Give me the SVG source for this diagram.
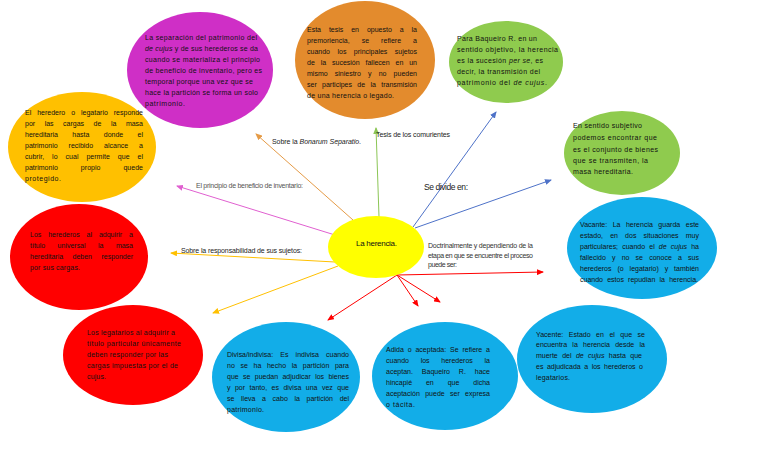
<svg xmlns="http://www.w3.org/2000/svg" width="768" height="466" viewBox="0 0 768 466">
<style>
text{font-family:"Liberation Sans",Arial,sans-serif;font-size:7px;fill:#111}
.lbl{fill:#222}
.gray{fill:#555}
.it{font-style:italic}
.ln{fill:none;stroke-width:1}
</style>
<defs>
<marker id="mo" markerWidth="7" markerHeight="6" refX="6" refY="3" orient="auto" markerUnits="userSpaceOnUse"><path d="M0,0L7,3L0,6z" fill="#E59B47"/></marker>
<marker id="mg" markerWidth="7" markerHeight="6" refX="6" refY="3" orient="auto" markerUnits="userSpaceOnUse"><path d="M0,0L7,3L0,6z" fill="#8CC656"/></marker>
<marker id="mb" markerWidth="7" markerHeight="6" refX="6" refY="3" orient="auto" markerUnits="userSpaceOnUse"><path d="M0,0L7,3L0,6z" fill="#4E72C8"/></marker>
<marker id="mp" markerWidth="7" markerHeight="6" refX="6" refY="3" orient="auto" markerUnits="userSpaceOnUse"><path d="M0,0L7,3L0,6z" fill="#E060D0"/></marker>
<marker id="my" markerWidth="7" markerHeight="6" refX="6" refY="3" orient="auto" markerUnits="userSpaceOnUse"><path d="M0,0L7,3L0,6z" fill="#FFC000"/></marker>
<marker id="mr" markerWidth="7" markerHeight="6" refX="6" refY="3" orient="auto" markerUnits="userSpaceOnUse"><path d="M0,0L7,3L0,6z" fill="#FF0000"/></marker>
</defs>

<g id="connectors">
<line class="ln" x1="353" y1="220" x2="256" y2="134" stroke="#E59B47" marker-end="url(#mo)"/>
<line class="ln" x1="379" y1="217" x2="376" y2="128" stroke="#8CC656" marker-end="url(#mg)"/>
<line class="ln" x1="413" y1="227" x2="496" y2="112" stroke="#4E72C8" marker-end="url(#mb)"/>
<line class="ln" x1="415" y1="228" x2="551" y2="180" stroke="#4E72C8" marker-end="url(#mb)"/>
<line class="ln" x1="335" y1="235" x2="177" y2="186" stroke="#E060D0" marker-end="url(#mp)"/>
<line class="ln" x1="335" y1="262" x2="171" y2="253" stroke="#FFC000" marker-end="url(#my)"/>
<line class="ln" x1="338" y1="266" x2="213" y2="313" stroke="#FFC000" marker-end="url(#my)"/>
<line class="ln" x1="397" y1="275" x2="543" y2="272" stroke="#FF0000" marker-end="url(#mr)"/>
<line class="ln" x1="397" y1="275" x2="328" y2="320" stroke="#FF0000" marker-end="url(#mr)"/>
<line class="ln" x1="397" y1="275" x2="418" y2="306" stroke="#FF0000" marker-end="url(#mr)"/>
<line class="ln" x1="397" y1="275" x2="440" y2="302" stroke="#FF0000" marker-end="url(#mr)"/>
</g>

<g id="n-magenta">
<ellipse cx="200" cy="70" rx="73" ry="58" fill="#CF2FC6"/>
<text x="145" y="40" textLength="112" lengthAdjust="spacing">La separación del patrimonio del</text>
<text x="145" y="51" textLength="113" lengthAdjust="spacing"><tspan class="it">de cujus</tspan> y de sus herederos se da</text>
<text x="145" y="62" textLength="115" lengthAdjust="spacing">cuando se materializa el principio</text>
<text x="145" y="73" textLength="117" lengthAdjust="spacing">de beneficio de inventario, pero es</text>
<text x="145" y="84" textLength="108" lengthAdjust="spacing">temporal porque una vez que se</text>
<text x="145" y="95" textLength="113" lengthAdjust="spacing">hace la partición se forma un solo</text>
<text x="145" y="106" textLength="40" lengthAdjust="spacing">patrimonio.</text>
</g>

<g id="n-orange">
<ellipse cx="365" cy="60" rx="70" ry="59" fill="#E38B2D"/>
<text x="307" y="32" textLength="110" lengthAdjust="spacing" style="word-spacing:6px">Esta tesis en opuesto a la</text>
<text x="307" y="43" textLength="110" lengthAdjust="spacing" style="word-spacing:10px">premoriencia, se refiere a</text>
<text x="307" y="54" textLength="110" lengthAdjust="spacing" style="word-spacing:5.5px">cuando los principales sujetos</text>
<text x="307" y="65" textLength="110" lengthAdjust="spacing" style="word-spacing:4px">de la sucesión fallecen en un</text>
<text x="307" y="76" textLength="110" lengthAdjust="spacing" style="word-spacing:5.2px">mismo siniestro y no pueden</text>
<text x="307" y="87" textLength="110" lengthAdjust="spacing" style="word-spacing:3.4px">ser participes de la transmisión</text>
<text x="307" y="98" textLength="87" lengthAdjust="spacing">de una herencia o legado.</text>
</g>

<g id="n-green-top">
<ellipse cx="506" cy="62" rx="57" ry="41" fill="#8FCB4E"/>
<text x="457" y="41" textLength="80" lengthAdjust="spacing">Para Baqueiro R. en un</text>
<text x="457" y="52" textLength="101" lengthAdjust="spacing">sentido objetivo, la herencia</text>
<text x="457" y="63" textLength="86" lengthAdjust="spacing">es la sucesión <tspan class="it">per se</tspan>, es</text>
<text x="457" y="74" textLength="83" lengthAdjust="spacing">decir, la transmisión del</text>
<text x="457" y="85" textLength="90" lengthAdjust="spacing">patrimonio del <tspan class="it">de cujus</tspan>.</text>
</g>

<g id="n-yellow-left">
<ellipse cx="82" cy="147" rx="74" ry="55" fill="#FFC000"/>
<text x="25" y="115" textLength="118" lengthAdjust="spacing" style="word-spacing:4px">El heredero o legatario responde</text>
<text x="25" y="126" textLength="118" lengthAdjust="spacing" style="word-spacing:7.6px">por las cargas de la masa</text>
<text x="25" y="137" textLength="118" lengthAdjust="spacing" style="word-spacing:12.4px">hereditaria hasta donde el</text>
<text x="25" y="148" textLength="118" lengthAdjust="spacing" style="word-spacing:9px">patrimonio recibido alcance a</text>
<text x="25" y="159" textLength="118" lengthAdjust="spacing" style="word-spacing:6px">cubrir, lo cual permite que el</text>
<text x="25" y="170" textLength="118" lengthAdjust="spacing" style="word-spacing:21px">patrimonio propio quede</text>
<text x="25" y="181" textLength="36" lengthAdjust="spacing">protegido.</text>
</g>

<g id="n-green-right">
<ellipse cx="622" cy="153" rx="58" ry="42" fill="#8FCB4E"/>
<text x="573" y="128" textLength="69" lengthAdjust="spacing">En sentido subjetivo</text>
<text x="573" y="140" textLength="84" lengthAdjust="spacing">podemos encontrar que</text>
<text x="573" y="152" textLength="85" lengthAdjust="spacing">es el conjunto de bienes</text>
<text x="573" y="163" textLength="75" lengthAdjust="spacing">que se transmiten, la</text>
<text x="573" y="174" textLength="60" lengthAdjust="spacing">masa hereditaria.</text>
</g>

<g id="n-red-left">
<ellipse cx="79" cy="257" rx="69" ry="53" fill="#FF0000"/>
<text x="30" y="237" textLength="103" lengthAdjust="spacing" style="word-spacing:5px">Los herederos al adquirir a</text>
<text x="30" y="248" textLength="103" lengthAdjust="spacing" style="word-spacing:10.5px">título universal la masa</text>
<text x="30" y="259" textLength="103" lengthAdjust="spacing" style="word-spacing:7.5px">hereditaria deben responder</text>
<text x="30" y="270" textLength="50" lengthAdjust="spacing">por sus cargas.</text>
</g>

<g id="n-center">
<ellipse cx="376" cy="247" rx="48" ry="31" fill="#FFFF00"/>
<text x="356" y="246" textLength="41" lengthAdjust="spacing" style="font-size:8px">La herencia.</text>
</g>

<g id="n-cyan-right">
<ellipse cx="642" cy="248" rx="75" ry="51" fill="#12ADE8"/>
<text x="580" y="227" textLength="119" lengthAdjust="spacing" style="word-spacing:3.5px">Vacante: La herencia guarda este</text>
<text x="580" y="238" textLength="119" lengthAdjust="spacing" style="word-spacing:5.2px">estado, en dos situaciones muy</text>
<text x="580" y="249" textLength="119" lengthAdjust="spacing" style="word-spacing:2.2px">particulares; cuando el <tspan class="it">de cujus</tspan> ha</text>
<text x="580" y="260" textLength="119" lengthAdjust="spacing" style="word-spacing:4.2px">fallecido y no se conoce a sus</text>
<text x="580" y="271" textLength="119" lengthAdjust="spacing" style="word-spacing:4px">herederos (o legatario) y también</text>
<text x="580" y="282" textLength="118" lengthAdjust="spacing" style="word-spacing:2.3px">cuando estos repudian la herencia.</text>
</g>

<g id="n-red-bottom">
<ellipse cx="133" cy="355" rx="70" ry="50" fill="#FF0000"/>
<text x="87" y="335" textLength="88" lengthAdjust="spacing">Los legatarios al adquirir a</text>
<text x="87" y="346" textLength="94" lengthAdjust="spacing">título particular únicamente</text>
<text x="87" y="357" textLength="81" lengthAdjust="spacing">deben responder por las</text>
<text x="87" y="368" textLength="91" lengthAdjust="spacing">cargas impuestas por el de</text>
<text x="87" y="379" textLength="19" lengthAdjust="spacing">cujus.</text>
</g>

<g id="n-cyan-divisa">
<ellipse cx="286" cy="377" rx="74" ry="55" fill="#12ADE8"/>
<text x="227" y="357" textLength="122" lengthAdjust="spacing" style="word-spacing:5.2px">Divisa/indivisa: Es indivisa cuando</text>
<text x="227" y="368" textLength="122" lengthAdjust="spacing" style="word-spacing:3.7px">no se ha hecho la partición para</text>
<text x="227" y="379" textLength="122" lengthAdjust="spacing" style="word-spacing:2.4px">que se puedan adjudicar los bienes</text>
<text x="227" y="390" textLength="122" lengthAdjust="spacing" style="word-spacing:2.5px">y por tanto, es divisa una vez que</text>
<text x="227" y="401" textLength="122" lengthAdjust="spacing" style="word-spacing:4.7px">se lleva a cabo la partición del</text>
<text x="227" y="412" textLength="37" lengthAdjust="spacing">patrimonio.</text>
</g>

<g id="n-cyan-adida">
<ellipse cx="445" cy="376" rx="73" ry="54" fill="#12ADE8"/>
<text x="386" y="352" textLength="104" lengthAdjust="spacing" style="word-spacing:1.9px">Adida o aceptada: Se refiere a</text>
<text x="386" y="363" textLength="104" lengthAdjust="spacing" style="word-spacing:9.8px">cuando los herederos la</text>
<text x="386" y="374" textLength="104" lengthAdjust="spacing" style="word-spacing:7px">aceptan. Baqueiro R. hace</text>
<text x="386" y="385" textLength="104" lengthAdjust="spacing" style="word-spacing:12px">hincapié en que dicha</text>
<text x="386" y="396" textLength="104" lengthAdjust="spacing" style="word-spacing:3.4px">aceptación puede ser expresa</text>
<text x="386" y="407" textLength="29" lengthAdjust="spacing">o tácita.</text>
</g>

<g id="n-cyan-yacente">
<ellipse cx="592" cy="359" rx="75" ry="54" fill="#12ADE8"/>
<text x="536" y="337" textLength="109" lengthAdjust="spacing" style="word-spacing:3.5px">Yacente: Estado en el que se</text>
<text x="536" y="347" textLength="109" lengthAdjust="spacing" style="word-spacing:3.4px">encuentra la herencia desde la</text>
<text x="536" y="358" textLength="106" lengthAdjust="spacing" style="word-spacing:2.5px">muerte del <tspan class="it">de cujus</tspan> hasta que</text>
<text x="536" y="369" textLength="107" lengthAdjust="spacing" style="word-spacing:1.6px">es adjudicada a los herederos o</text>
<text x="536" y="380" textLength="34" lengthAdjust="spacing">legatarios.</text>
</g>

<g id="labels">
<text class="lbl" x="272" y="144" textLength="89" lengthAdjust="spacing">Sobre la <tspan class="it">Bonarum Separatio</tspan>.</text>
<text class="lbl" x="376" y="137" textLength="74" lengthAdjust="spacing">Tesis de los comurientes</text>
<text class="gray" x="196" y="188" textLength="107" lengthAdjust="spacing">El principio de beneficio de inventario:</text>
<text class="lbl" x="424" y="190" textLength="44" lengthAdjust="spacing" style="font-size:8.5px">Se divide en:</text>
<text class="lbl" x="181" y="253" textLength="121" lengthAdjust="spacing">Sobre la responsabilidad de sus sujetos:</text>
<text x="428" y="248" textLength="105" lengthAdjust="spacing" style="fill:#333">Doctrinalmente y dependiendo de la</text>
<text x="428" y="258" textLength="105" lengthAdjust="spacing" style="fill:#333">etapa en que se encuentre el proceso</text>
<text x="428" y="267" textLength="29" lengthAdjust="spacing" style="fill:#333">puede ser:</text>
</g>
</svg>
